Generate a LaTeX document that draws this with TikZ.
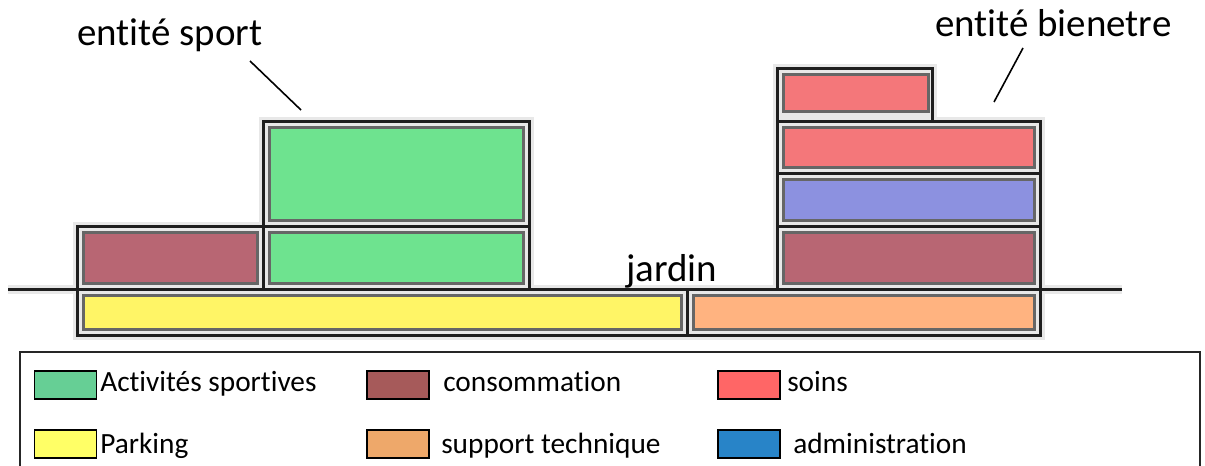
\documentclass[tikz,border=0pt]{standalone}
\usepackage{fontspec}
\setmainfont{Carlito}[Ligatures=NoCommon]
\definecolor{halo}{HTML}{E8E8E8}
\definecolor{framek}{HTML}{1E1E1E}
\definecolor{innergray}{HTML}{666666}
\definecolor{cgreen}{HTML}{6EE38F}
\definecolor{cmaroon}{HTML}{B86673}
\definecolor{csoins}{HTML}{F4777A}
\definecolor{cblue}{HTML}{8C91E0}
\definecolor{cyellow}{HTML}{FFF566}
\definecolor{corange}{HTML}{FFB380}
\definecolor{lgreen}{HTML}{66CF95}
\definecolor{lmaroon}{HTML}{A65A5A}
\definecolor{lsoins}{HTML}{FF6666}
\definecolor{lyellow}{HTML}{FFFF66}
\definecolor{lorange}{HTML}{EEA86A}
\definecolor{lblue}{HTML}{2884C8}
\begin{document}
\begin{tikzpicture}[x=0.75pt,y=-0.75pt,
  halopass/.style={fill=halo,draw=halo,line width=6.75pt},
  framepass/.style={draw=framek,line width=2.25pt},
  innerpass/.style={draw=innergray,line width=2.25pt},
  titletext/.style={inner sep=0pt,anchor=base west,font=\fontsize{29.2pt}{34pt}\selectfont},
  lgtext/.style={inner sep=0pt,anchor=base west,font=\fontsize{22pt}{26pt}\selectfont},
  swatch/.style={draw=black,line width=1.2pt,inner sep=0pt,minimum width=46.5pt,minimum height=21pt},
  leader/.style={draw=black,line width=1.2pt}]
\useasboundingbox (0,0) rectangle (1205,465);
\clip (0,0) rectangle (1205,465);
\def\cells{263.8/121.5/529/226.3/cgreen,
  263.8/226.3/529/289/cgreen,
  77.5/226.3/263.8/289/cmaroon,
  77.5/289/687.5/335/cyellow,
  687.5/289/1040.7/335/corange,
  777.5/121.5/1040.7/173.3/csoins,
  777.5/173.3/1040.7/226.3/cblue,
  777.5/226.3/1040.7/289/cmaroon}
% halo pass
\foreach \a/\b/\c/\d/\e in \cells {\filldraw[halopass] (\a,\b) rectangle (\c,\d);}
\filldraw[halopass] (777.5,68) rectangle (932.3,121.5);
\draw[draw=halo,line width=6.75pt] (8,289) -- (1122,289);
% frame pass
\draw[framepass] (8,289) -- (1122,289);
\foreach \a/\b/\c/\d/\e in \cells {\draw[framepass] (\a,\b) rectangle (\c,\d);}
\draw[framepass] (777.5,121.5) -- (777.5,68) -- (932.3,68) -- (932.3,121.5);
% inner pass
\foreach \a/\b/\c/\d/\e in \cells {\filldraw[innerpass,fill=\e] (\a+6,\b+6) rectangle (\c-6,\d-6);}
\filldraw[innerpass,fill=csoins] (783.5,74) rectangle (928.8,111.5);
% titles and leaders
\node[titletext] (sportlbl) at (77,45) {entité sport};
\node[titletext] (bienlbl) at (935,36) {entité bienetre};
\node[titletext] (jardinlbl) at (626,281) {jardin};
\coordinate (sportA) at (250,61);
\coordinate (sportB) at (301,110);
\draw[leader] (sportA) -- (sportB);
\coordinate (bienA) at (1023,48);
\coordinate (bienB) at (994,102);
\draw[leader] (bienA) -- (bienB);
% legend
\draw[draw=black!85,line width=1.1pt] (20,352) rectangle (1200,520);
\node[swatch,fill=lgreen] (swA) at (65.5,385) {};
\node[swatch,fill=lmaroon] (swB) at (398,385) {};
\node[swatch,fill=lsoins] (swC) at (749,385) {};
\node[swatch,fill=lyellow] (swD) at (65.5,444) {};
\node[swatch,fill=lorange] (swE) at (398,444) {};
\node[swatch,fill=lblue] (swF) at (749,444) {};
\node[lgtext] (txA) at (100,391) {Activités sportives};
\node[lgtext] (txB) at (443,391) {consommation};
\node[lgtext] (txC) at (787,391) {soins};
\node[lgtext] (txD) at (100,453) {Parking};
\node[lgtext] (txE) at (441,453) {support technique};
\node[lgtext] (txF) at (793,453) {administration};
\end{tikzpicture}
\end{document}
